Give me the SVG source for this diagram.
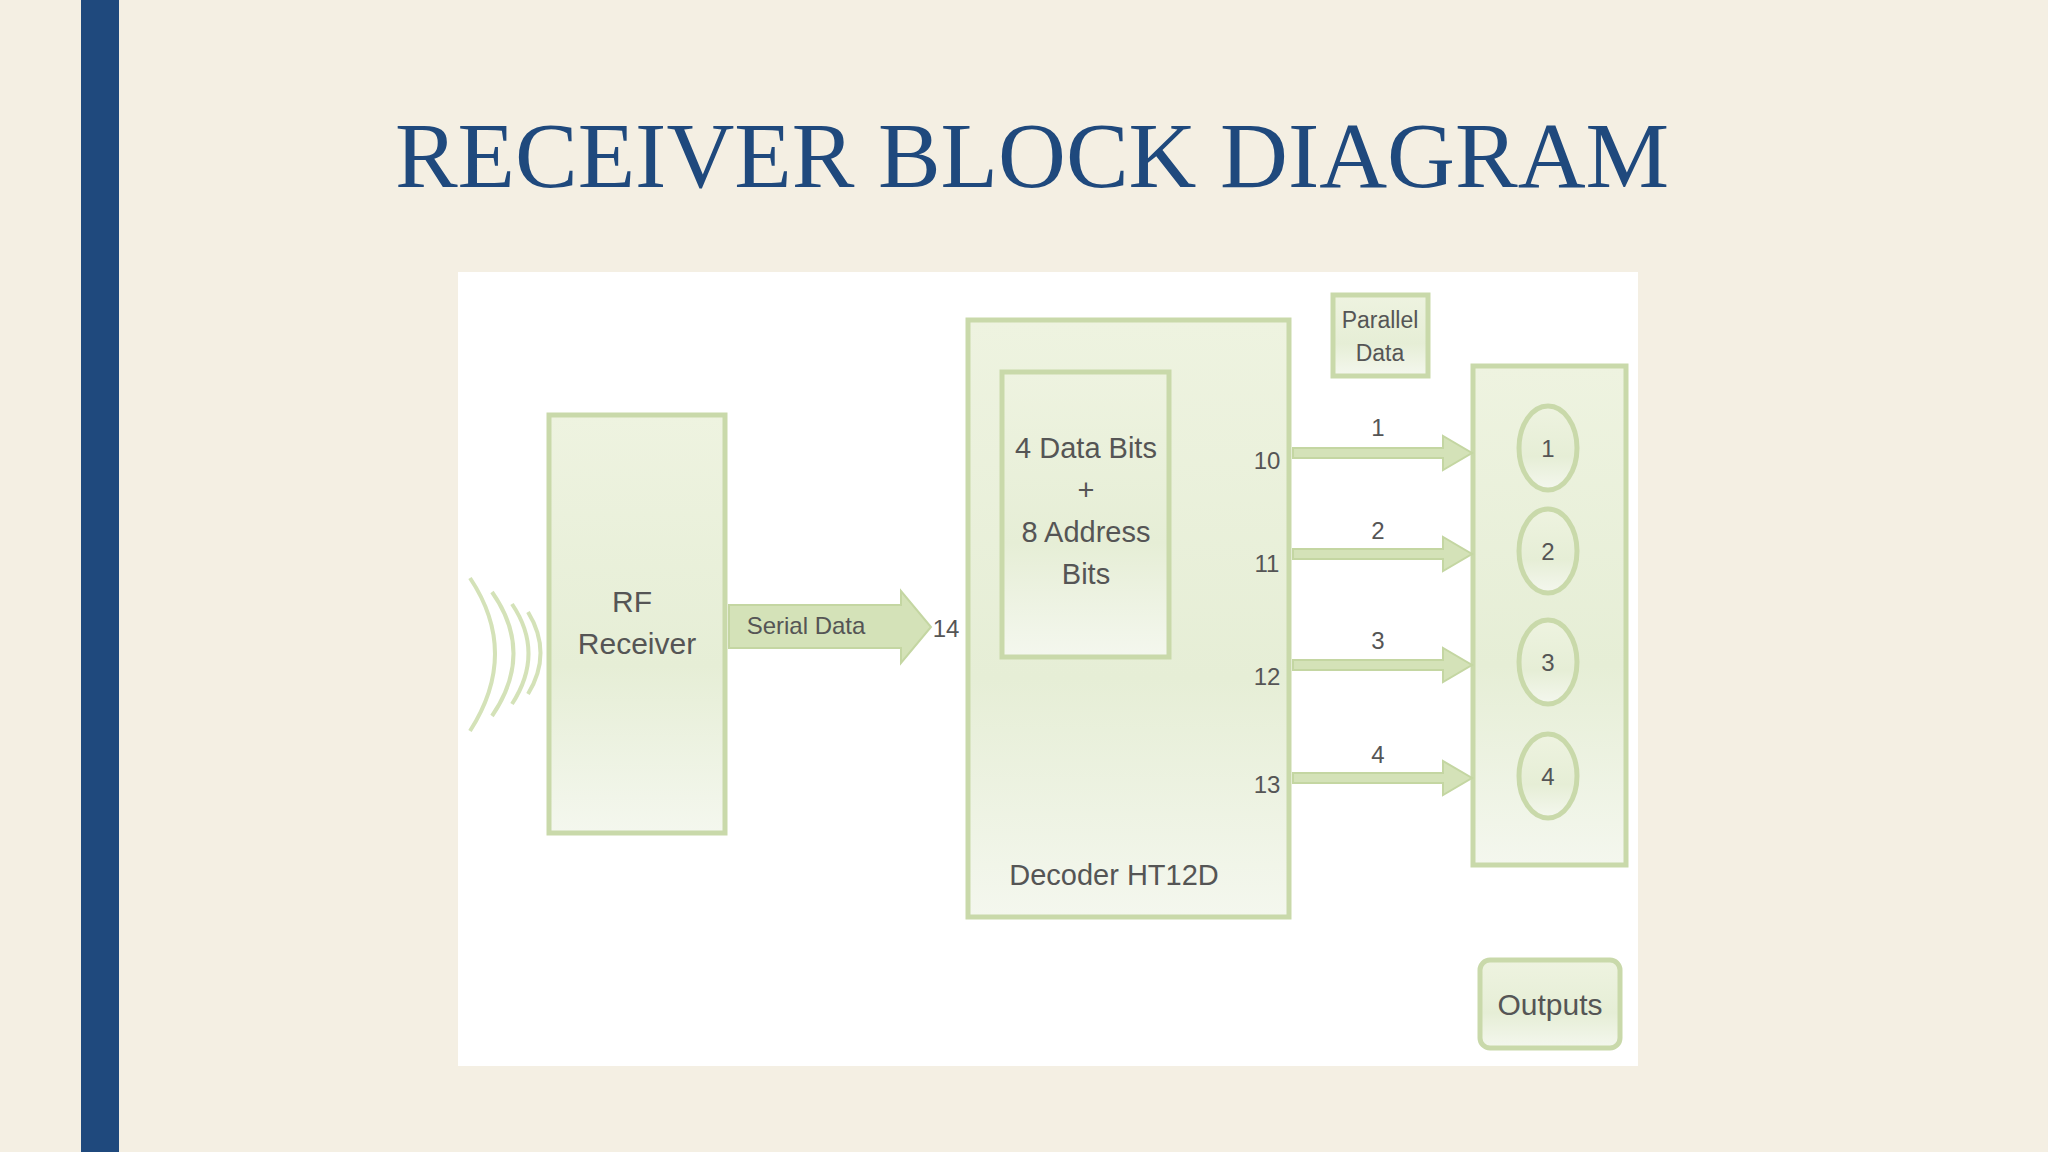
<svg xmlns="http://www.w3.org/2000/svg" width="2048" height="1152" viewBox="0 0 2048 1152">
<defs>
<linearGradient id="g" x1="0" y1="0" x2="0" y2="1"><stop offset="0" stop-color="#eef3e0"/><stop offset="0.6" stop-color="#e6eed6"/><stop offset="1" stop-color="#f4f7ee"/></linearGradient>
<style>
.b{fill:url(#g);stroke:#c9d9aa;stroke-width:5}
.t{font-family:"Liberation Sans",Arial,sans-serif;fill:#555;text-anchor:middle}
.a{fill:#d4e2b8;stroke:#c4d6a2;stroke-width:2}
</style>
</defs>
<rect width="2048" height="1152" fill="#f4efe3"/>
<rect x="81" y="0" width="38" height="1152" fill="#1f497d"/>
<text x="1032" y="187" font-family="Liberation Serif,serif" font-size="94" fill="#1f497d" text-anchor="middle">RECEIVER BLOCK DIAGRAM</text>
<rect x="458" y="272" width="1180" height="794" fill="#fff"/>
<g id="waves" fill="none" stroke="#d4e2b8" stroke-width="4">
<path d="M470 578 Q520 653 470 731"/><path d="M492 592 Q535 653 492 716"/><path d="M512 604 Q545 653 512 704"/><path d="M528 612 Q553 653 528 694"/>
</g>
<g id="rf"><rect class="b" x="549" y="415" width="176" height="418"/><text class="t" font-size="30" x="632" y="612">RF</text><text class="t" font-size="30" x="637" y="654">Receiver</text></g>
<g id="decoder"><rect class="b" x="968" y="320" width="321" height="597"/><text class="t" font-size="29" x="1114" y="885">Decoder HT12D</text>
<text class="t" font-size="24" x="1267" y="469">10</text><text class="t" font-size="24" x="1267" y="572">11</text><text class="t" font-size="24" x="1267" y="685">12</text><text class="t" font-size="24" x="1267" y="793">13</text></g>
<g id="bits"><rect class="b" x="1002" y="372" width="167" height="285"/><text class="t" font-size="29" x="1086" y="458">4 Data Bits</text><text class="t" font-size="29" x="1086" y="500">+</text><text class="t" font-size="29" x="1086" y="542">8 Address</text><text class="t" font-size="29" x="1086" y="584">Bits</text></g>
<g id="parallel"><rect class="b" x="1333" y="295" width="95" height="81"/><text class="t" font-size="23" x="1380" y="328">Parallel</text><text class="t" font-size="23" x="1380" y="361">Data</text></g>
<g id="outputs"><rect class="b" x="1473" y="366" width="153" height="499"/>
<ellipse class="b" cx="1548" cy="448" rx="29" ry="42"/><ellipse class="b" cx="1548" cy="551" rx="29" ry="42"/><ellipse class="b" cx="1548" cy="662" rx="29" ry="42"/><ellipse class="b" cx="1548" cy="776" rx="29" ry="42"/>
<text class="t" font-size="24" x="1548" y="457">1</text><text class="t" font-size="24" x="1548" y="560">2</text><text class="t" font-size="24" x="1548" y="671">3</text><text class="t" font-size="24" x="1548" y="785">4</text></g>
<g id="outlabel"><rect class="b" x="1480" y="960" width="140" height="88" rx="10"/><text class="t" font-size="30" x="1550" y="1015">Outputs</text></g>
<g id="connectors">
<path class="a" d="M729 605 H901 V591 L931 627 L901 663 V648 H729 Z"/>
<text class="t" font-size="24" x="806" y="634">Serial Data</text>
<text class="t" font-size="24" x="946" y="637">14</text>
<path class="a" d="M1293 448 H1443 V436 L1472 453 L1443 470 V458 H1293 Z"/>
<path class="a" d="M1293 549 H1443 V537 L1472 554 L1443 571 V559 H1293 Z"/>
<path class="a" d="M1293 660 H1443 V648 L1472 665 L1443 682 V670 H1293 Z"/>
<path class="a" d="M1293 773 H1443 V761 L1472 778 L1443 795 V783 H1293 Z"/>
<text class="t" font-size="24" x="1378" y="436">1</text><text class="t" font-size="24" x="1378" y="539">2</text><text class="t" font-size="24" x="1378" y="649">3</text><text class="t" font-size="24" x="1378" y="763">4</text>
</g>
</svg>
